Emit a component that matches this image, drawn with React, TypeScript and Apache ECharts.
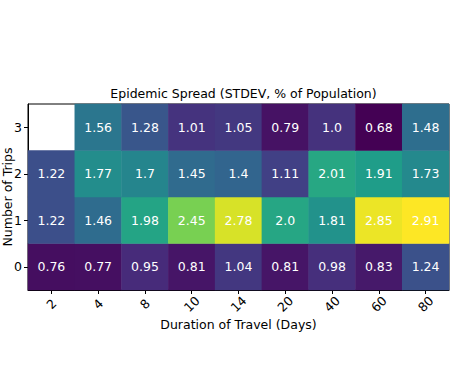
import React, { useEffect, useRef } from "react";
import * as echarts from "echarts";

const durations = ["2", "4", "8", "10", "14", "20", "40", "60", "80"];
const trips = ["0", "1", "2", "3"];
const row0 = [0.76, 0.77, 0.95, 0.81, 1.04, 0.81, 0.98, 0.83, 1.24];
const row1 = [1.22, 1.46, 1.98, 2.45, 2.78, 2.0, 1.81, 2.85, 2.91];
const row2 = [1.22, 1.77, 1.7, 1.45, 1.4, 1.11, 2.01, 1.91, 1.73];
const row3: (number | null)[] = [null, 1.56, 1.28, 1.01, 1.05, 0.79, 1.0, 0.68, 1.48];
const viridis = ["#440154", "#482878", "#3e4989", "#31688e", "#26828e", "#1f9e89", "#35b779", "#6ece58", "#b5de2b", "#fde725"];

export default function App() {
  const ref = useRef<HTMLDivElement>(null);
  useEffect(() => {
    const chart = echarts.init(ref.current!, null, { renderer: "svg" });
    const rows = [row0, row1, row2, row3];
    const data: any[] = [];
    rows.forEach((r, yi) => r.forEach((v, xi) => { if (v !== null) data.push([xi, yi, v]); }));
    const font = "DejaVu Sans";
    const fs = 12.5;
    chart.setOption({
      animation: false,
      textStyle: { fontFamily: font },
      title: {
        text: "Epidemic Spread (STDEV, % of Population)",
        left: 238.5, top: 82, textAlign: "center",
        textStyle: { fontSize: fs, fontWeight: "normal", color: "#000", fontFamily: font },
      },
      grid: {
        left: 28, top: 104, width: 421, height: 186, containLabel: false, outerBoundsMode: "none",
        show: true, borderColor: "#000", borderWidth: 1, backgroundColor: "#fff",
      },
      xAxis: {
        type: "category", data: durations,
        name: "Duration of Travel (Days)", nameLocation: "middle", nameGap: 28, nameMoveOverlap: false,
        nameTextStyle: { fontSize: fs, color: "#000", fontFamily: font },
        axisLine: { show: true, lineStyle: { color: "#000" } },
        axisTick: { show: true, alignWithLabel: true, length: 4, lineStyle: { color: "#000" } },
        axisLabel: { rotate: 45, align: "center", verticalAlign: "middle", fontSize: fs, color: "#000", fontFamily: font, margin: 14 },
        splitArea: { show: false },
      },
      yAxis: {
        type: "category", data: trips,
        name: "Number of Trips", nameLocation: "middle", nameGap: 14, nameMoveOverlap: false,
        nameTextStyle: { fontSize: fs, color: "#000", fontFamily: font },
        axisLine: { show: true, lineStyle: { color: "#000" } },
        axisTick: { show: true, alignWithLabel: true, length: 4, lineStyle: { color: "#000" } },
        axisLabel: { fontSize: fs, color: "#000", fontFamily: font, margin: 6 },
        splitArea: { show: false },
      },
      visualMap: { show: false, min: 0.68, max: 2.91, dimension: 2, inRange: { color: viridis } },
      series: [{
        type: "heatmap", data,
        label: {
          show: true, color: "#fff", fontSize: fs, fontFamily: font,
          formatter: (p: any) => { const v = p.value[2]; return Number.isInteger(v) ? v.toFixed(1) : String(v); },
        },
        itemStyle: { borderWidth: 0 },
        emphasis: { disabled: true },
      }],
    });
    return () => chart.dispose();
  }, []);
  return <div ref={ref} style={{ width: 455, height: 386, position: "absolute", left: 0, top: 0 }} />;
}
